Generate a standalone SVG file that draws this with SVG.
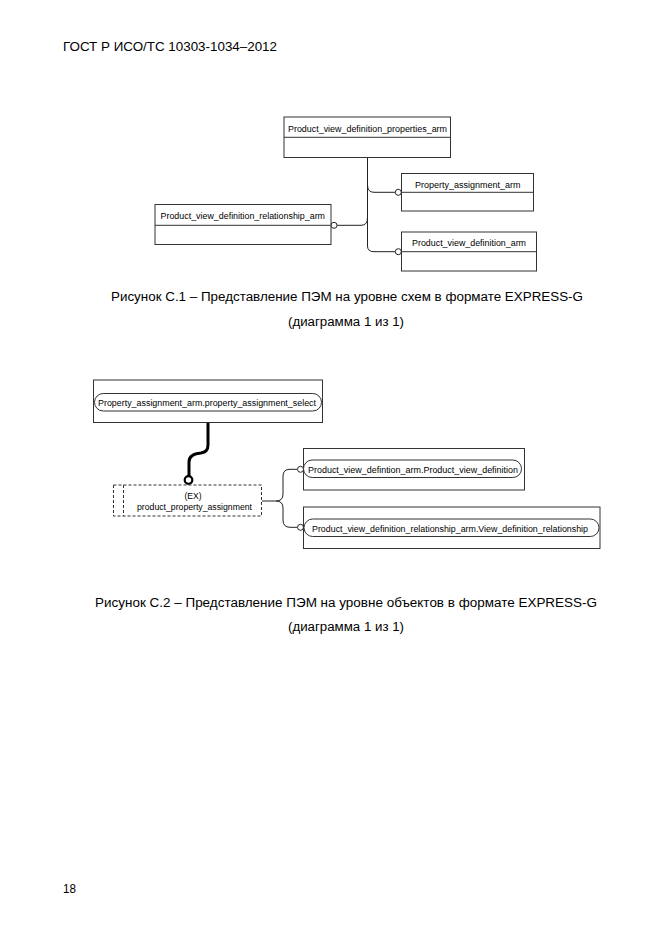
<svg xmlns="http://www.w3.org/2000/svg" width="661" height="935" viewBox="0 0 661 935">
<style>
.t{font-family:"Liberation Sans",Arial,sans-serif;fill:#000}
.hd{font-size:12.5px}
.cap{font-size:12.5px}
.n{font-size:8.5px}
.box{fill:#fff;stroke:#333;stroke-width:1}
.dv{stroke:#333;stroke-width:1}
.ln{fill:none;stroke:#222;stroke-width:1}
.circ{fill:#fff;stroke:#222;stroke-width:1}
.pill{fill:#fff;stroke:#333;stroke-width:1}
.dash{fill:#fff;stroke:#333;stroke-width:1;stroke-dasharray:3,2}
</style>
<rect width="661" height="935" fill="#fff"/>
<text class="t hd" x="63" y="51" textLength="214" lengthAdjust="spacingAndGlyphs">ГОСТ Р ИСО/ТС 10303-1034–2012</text>

<g id="connectors">
  <path class="ln" d="M367.5,157.5 V246 Q367.5,251.7 374,251.7 H395"/>
  <path class="ln" d="M367.5,185 Q367.5,192.3 374,192.3 H395"/>
  <path class="ln" d="M367.5,218 Q367.5,225.3 361,225.3 H337"/>
  <circle class="circ" cx="398.3" cy="192.3" r="3"/>
  <circle class="circ" cx="398.3" cy="251.7" r="3"/>
  <circle class="circ" cx="334" cy="225.3" r="3"/>

  <path fill="none" stroke="#000" stroke-width="3" d="M208,422.5 V445 Q208,452 201,453 Q189,454 189,462 V476"/>
  <circle fill="#fff" stroke="#000" stroke-width="2.2" cx="188.5" cy="480" r="3.8"/>
  <path class="ln" d="M262,501 H276 Q283,501 283,494 V476 Q283,469.3 290,469.3 H297"/>
  <path class="ln" d="M276,501 Q283,501 283,508 V520 Q283,527.3 290,527.3 H297"/>
  <circle class="circ" cx="300.5" cy="469.3" r="3"/>
  <circle class="circ" cx="300.5" cy="527.3" r="3"/>
</g>

<g id="pvd_properties_arm">
  <rect class="box" x="284" y="117" width="166.5" height="40.5"/>
  <line class="dv" x1="284" y1="137.3" x2="450.5" y2="137.3"/>
  <text class="t n" x="288" y="132" textLength="159" lengthAdjust="spacingAndGlyphs">Product_view_definition_properties_arm</text>
</g>
<g id="property_assignment_arm">
  <rect class="box" x="401.5" y="173.5" width="132" height="37.5"/>
  <line class="dv" x1="401.5" y1="192.3" x2="533.5" y2="192.3"/>
  <text class="t n" x="415" y="188" textLength="105.5" lengthAdjust="spacingAndGlyphs">Property_assignment_arm</text>
</g>
<g id="pvd_relationship_arm">
  <rect class="box" x="155" y="204.5" width="176" height="40"/>
  <line class="dv" x1="155" y1="225.3" x2="331" y2="225.3"/>
  <text class="t n" x="160.5" y="219" textLength="164.5" lengthAdjust="spacingAndGlyphs">Product_view_definition_relationship_arm</text>
</g>
<g id="pvd_arm">
  <rect class="box" x="401.5" y="232" width="135" height="39"/>
  <line class="dv" x1="401.5" y1="251.7" x2="536.5" y2="251.7"/>
  <text class="t n" x="412" y="246" textLength="114" lengthAdjust="spacingAndGlyphs">Product_view_definition_arm</text>
</g>

<text class="t cap" x="111" y="301" textLength="472" lengthAdjust="spacingAndGlyphs">Рисунок  С.1 – Представление ПЭМ на уровне схем в формате EXPRESS-G</text>
<text class="t cap" x="288" y="326" textLength="116" lengthAdjust="spacingAndGlyphs">(диаграмма 1 из 1)</text>

<g id="property_assignment_select">
  <rect class="box" x="93.5" y="380" width="229" height="42.5"/>
  <rect class="pill" x="94.5" y="393.5" width="227" height="17.5" rx="8.7"/>
  <text class="t n" x="98" y="405.5" textLength="218" lengthAdjust="spacingAndGlyphs">Property_assignment_arm.property_assignment_select</text>
</g>
<g id="product_property_assignment">
  <rect class="dash" x="113.5" y="485" width="148" height="31"/>
  <line class="dv" x1="123.5" y1="485" x2="123.5" y2="516" stroke-dasharray="3,2"/>
  <text class="t n" x="193" y="499" text-anchor="middle">(EX)</text>
  <text class="t n" x="137" y="510" textLength="115" lengthAdjust="spacingAndGlyphs">product_property_assignment</text>
</g>
<g id="pvd_arm_pvd">
  <rect class="box" x="303.5" y="448.5" width="221" height="41.5"/>
  <rect class="pill" x="303.5" y="460" width="218" height="17.5" rx="8.7"/>
  <text class="t n" x="308" y="472.5" textLength="210" lengthAdjust="spacingAndGlyphs">Product_view_defintion_arm.Product_view_definition</text>
</g>
<g id="pvdr_arm_vdr">
  <rect class="box" x="303.5" y="507" width="296.5" height="41.5"/>
  <rect class="pill" x="304" y="519" width="295" height="17.5" rx="8.7"/>
  <text class="t n" x="312" y="531.5" textLength="276" lengthAdjust="spacingAndGlyphs">Product_view_definition_relationship_arm.View_definition_relationship</text>
</g>

<text class="t cap" x="95" y="607" textLength="502" lengthAdjust="spacingAndGlyphs">Рисунок  С.2 – Представление ПЭМ на уровне объектов в формате EXPRESS-G</text>
<text class="t cap" x="288" y="631" textLength="116" lengthAdjust="spacingAndGlyphs">(диаграмма 1 из 1)</text>

<text class="t hd" x="63" y="893" textLength="13" lengthAdjust="spacingAndGlyphs">18</text>
</svg>
